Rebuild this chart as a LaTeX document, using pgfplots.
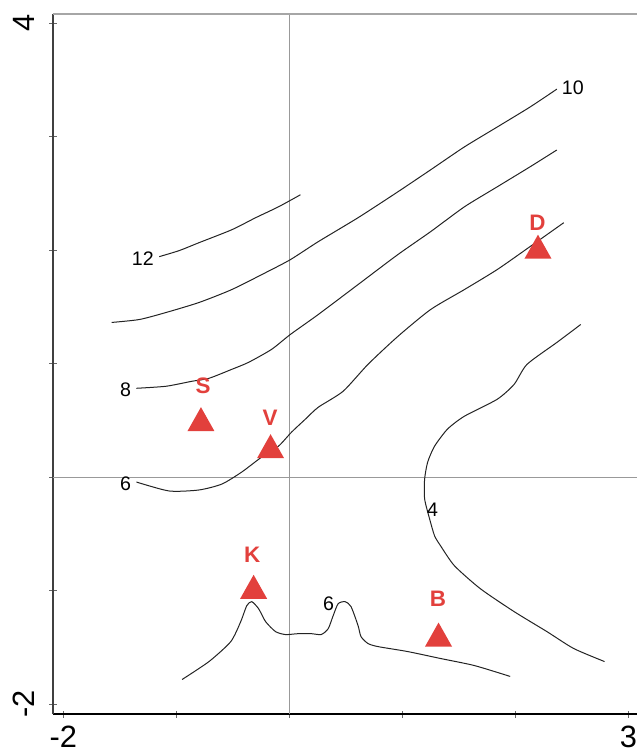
\documentclass[border=0pt]{standalone}
\usepackage{fontspec}
\setmainfont{Liberation Sans}
\usepackage{pgfplots}
\pgfplotsset{compat=1.18}
\definecolor{mred}{RGB}{226,64,60}
\definecolor{cline}{RGB}{35,35,35}
% filled triangle, centred on its bounding box
\pgfdeclareplotmark{tri}{%
  \pgfpathmoveto{\pgfqpoint{0pt}{6pt}}%
  \pgfpathlineto{\pgfqpoint{6.75pt}{-6pt}}%
  \pgfpathlineto{\pgfqpoint{-6.75pt}{-6pt}}%
  \pgfpathclose\pgfusepathqfill}
\tikzset{
  lab/.style={font=\fontsize{9.8}{12}\selectfont, inner sep=0pt, anchor=center},
  mlab/.style={font=\fontsize{11.2}{13}\selectfont\bfseries, text=mred, inner sep=0pt, anchor=center},
}
\begin{document}
\begin{tikzpicture}
\begin{axis}[
  scale only axis,
  width=292pt, height=350pt,
  xmin=-2.092, xmax=3.075,
  ymin=-2.088, ymax=4.08,
  axis x line*=bottom, axis y line*=left,
  x axis line style={-, line width=0.7pt},
  y axis line style={-, line width=0.7pt, draw=black!75},
  xtick={-2,-1,0,1,2,3}, xticklabels={-2,,,,,3},
  ytick={-2,-1,0,1,2,3,4}, yticklabels={-2,,,,,,4},
  tick align=center, major tick length=3.5pt,
  tick style={black!60, line width=0.5pt},
  ticklabel style={font=\fontsize{15.4}{18}\selectfont},
  xticklabel style={anchor=north, inner sep=0pt, yshift=-4pt},
  yticklabel style={rotate=90, anchor=south, yshift=4pt},
  extra x ticks={0}, extra y ticks={0},
  extra x tick labels={}, extra y tick labels={},
  extra tick style={grid=major, major grid style={black!40, line width=0.5pt}, major tick length=0pt},
  contour/.style={cline, line width=0.5pt, smooth, tension=0.4, mark=none},
]
% contour 12
\addplot[contour] coordinates {
 (-1.152,1.942) (-0.976,1.995) (-0.800,2.065) (-0.510,2.179)
 (-0.299,2.285) (-0.097,2.381) (0.097,2.487)};
% contour 10
\addplot[contour] coordinates {
 (-1.574,1.362) (-1.328,1.388) (-1.091,1.450) (-0.800,1.538)
 (-0.510,1.652) (-0.211,1.801) (0.009,1.916) (0.255,2.074)
 (0.607,2.285) (0.959,2.513) (1.249,2.707) (1.548,2.909)
 (1.838,3.084) (2.128,3.260) (2.366,3.418)};
% contour 8
\addplot[contour] coordinates {
 (-1.354,0.782) (-1.091,0.800) (-0.862,0.844) (-0.712,0.870)
 (-0.510,0.949) (-0.361,1.011) (-0.158,1.125) (0.009,1.257)
 (0.255,1.432) (0.607,1.696) (0.959,1.960) (1.249,2.162)
 (1.548,2.381) (1.838,2.557) (2.128,2.733) (2.366,2.882)};
% contour 6 (upper)
\addplot[contour] coordinates {
 (-1.354,-0.044) (-1.064,-0.123) (-0.800,-0.114) (-0.598,-0.062)
 (-0.422,0.044) (-0.246,0.176) (-0.097,0.272) (0.018,0.395)
 (0.141,0.510) (0.255,0.615) (0.475,0.756) (0.695,0.993)
 (0.959,1.239) (1.249,1.476) (1.548,1.652) (1.838,1.828)
 (2.128,2.030) (2.427,2.241)};
% contour 4
\addplot[contour] coordinates {
 (2.577,1.344) (2.366,1.186) (2.102,0.993) (1.988,0.817)
 (1.838,0.685) (1.548,0.536) (1.398,0.422) (1.284,0.272)
 (1.223,0.132) (1.196,-0.018) (1.196,-0.193) (1.240,-0.369)
 (1.284,-0.518) (1.337,-0.606) (1.460,-0.782) (1.689,-0.984)
 (1.988,-1.186) (2.278,-1.362) (2.515,-1.511) (2.788,-1.626)};
% contour 6 (lower)
\addplot[contour] coordinates {
 (-0.950,-1.784) (-0.712,-1.626) (-0.519,-1.450) (-0.431,-1.274)
 (-0.378,-1.134) (-0.334,-1.098) (-0.273,-1.160) (-0.211,-1.274)
 (-0.123,-1.362) (-0.035,-1.388) (0.079,-1.380) (0.193,-1.380)
 (0.281,-1.388) (0.343,-1.336) (0.387,-1.221) (0.431,-1.116)
 (0.493,-1.098) (0.545,-1.142) (0.607,-1.309) (0.633,-1.406)
 (0.695,-1.467) (0.783,-1.494) (1.047,-1.538) (1.337,-1.599)
 (1.636,-1.661) (1.953,-1.757)};
% sites
\addplot[only marks, mark=tri, color=mred] coordinates {
 (-0.783,0.510) (-0.167,0.272) (-0.317,-0.967) (1.319,-1.388) (2.199,2.030)};
% contour labels
\node[lab] at (axis cs:-1.297,1.924) {12};
\node[lab] at (axis cs:2.507,3.427) {10};
\node[lab] at (axis cs:-1.451,0.773) {8};
\node[lab] at (axis cs:-1.451,-0.062) {6};
\node[lab] at (axis cs:1.266,-0.290) {4};
\node[lab] at (axis cs:0.347,-1.120) {6};
% site labels
\node[mlab] at (axis cs:-0.765,0.808) {S};
\node[mlab] at (axis cs:-0.171,0.523) {V};
\node[mlab] at (axis cs:-0.330,-0.685) {K};
\node[mlab] at (axis cs:1.315,-1.076) {B};
\node[mlab] at (axis cs:2.194,2.236) {D};
\draw[black!35, line width=1pt] (rel axis cs:0,1) -- (rel axis cs:1,1);
\end{axis}
\pgfresetboundingbox
\path ([shift={(-26.5pt,-20.5pt)}]current axis.south west) rectangle ([shift={(2.5pt,7pt)}]current axis.north east);
\end{tikzpicture}
\end{document}
